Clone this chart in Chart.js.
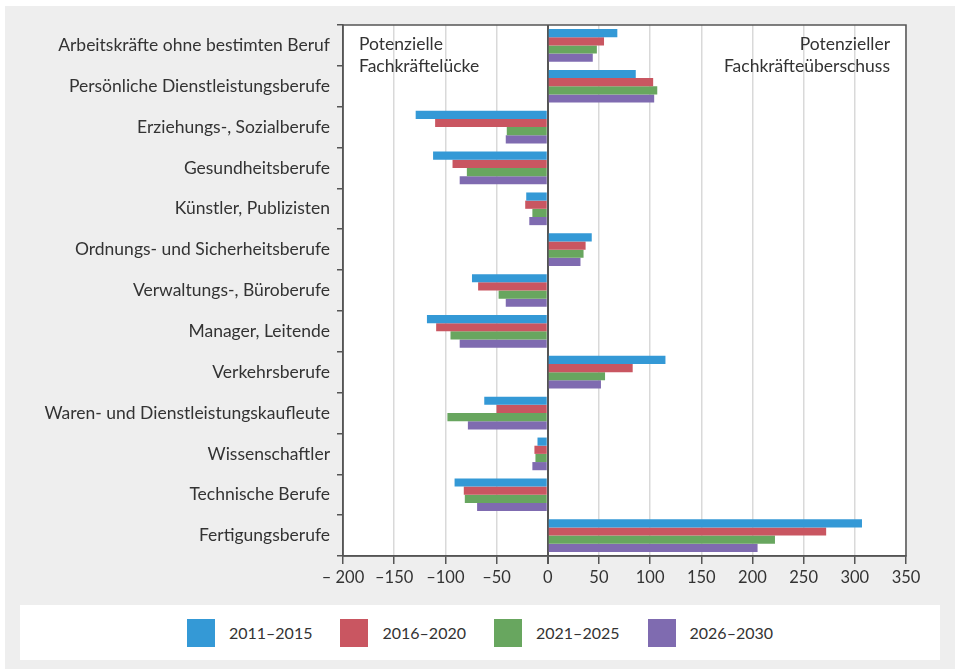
<!DOCTYPE html>
<html lang="de">
<head>
<meta charset="utf-8">
<script src="https://cdn.jsdelivr.net/npm/chart.js@4.4.1/dist/chart.umd.min.js"></script>
<style>
  html, body { margin: 0; padding: 0; background: #fff; width: 955px; height: 669px; overflow: hidden; }
  .frame { position: absolute; left: 5px; top: 6px; width: 950px; height: 663px; background: #eeeeee; }
  #chart { position: absolute; left: 0; top: 0; }
  #legend { position: absolute; left: 20px; top: 605px; width: 920px; height: 55px; background: #fff;
            display: flex; justify-content: center; align-items: center; gap: 28px;
            font-family: Lato, sans-serif; font-size: 16px; color: #333; }
  #legend .item { display: flex; align-items: center; gap: 14px; }
  #legend .box { width: 28px; height: 28px; }
</style>
</head>
<body>
<div class="frame"></div>
<canvas id="chart" width="955" height="600"></canvas>
<div id="legend"></div>
<script>
// Berufsgruppen (von oben nach unten)
const categories = [
  'Arbeitskräfte ohne bestimten Beruf',
  'Persönliche Dienstleistungsberufe',
  'Erziehungs-, Sozialberufe',
  'Gesundheitsberufe',
  'Künstler, Publizisten',
  'Ordnungs- und Sicherheitsberufe',
  'Verwaltungs-, Büroberufe',
  'Manager, Leitende',
  'Verkehrsberufe',
  'Waren- und Dienstleistungskaufleute',
  'Wissenschaftler',
  'Technische Berufe',
  'Fertigungsberufe'
];

// Werte je Zeitraum (in Tausend)
const periods = ['2011–2015', '2016–2020', '2021–2025', '2026–2030'];
const v2011 = [68, 86, -129, -112, -21, 43, -74, -118, 115, -62, -10, -91, 307];
const v2016 = [55, 103, -110, -93, -22, 37, -68, -109, 83, -50, -13, -82, 272];
const v2021 = [48, 107, -40, -79, -15, 35, -48, -95, 56, -98, -12, -81, 222];
const v2026 = [44, 104, -41, -86, -18, 32, -41, -86, 52, -78, -15, -69, 205];
const colors = ['#3499d6', '#c95661', '#68a65f', '#7f6bb0'];

// x-Achse
const xMin = -200;
const xMax = 350;
const xStep = 50;

const seriesValues = [v2011, v2016, v2021, v2026];

// Hintergrund, Rahmen und Beschriftungen im Diagramm
const plotDecor = {
  id: 'plotDecor',
  beforeDraw(chart) {
    const { ctx, chartArea: a } = chart;
    ctx.save();
    ctx.fillStyle = '#ffffff';
    ctx.fillRect(a.left, a.top, a.right - a.left, a.bottom - a.top);
    ctx.restore();
  },
  afterDraw(chart) {
    const { ctx, chartArea: a } = chart;
    ctx.save();
    ctx.strokeStyle = '#555';
    ctx.lineWidth = 1.5;
    ctx.strokeRect(a.left, a.top, a.right - a.left, a.bottom - a.top);
    ctx.fillStyle = '#333';
    ctx.font = '17.5px Lato, sans-serif';
    ctx.textBaseline = 'middle';
    ctx.textAlign = 'left';
    ctx.fillText('Potenzielle', a.left + 16, a.top + 19);
    ctx.fillText('Fachkräftelücke', a.left + 16, a.top + 41);
    ctx.textAlign = 'right';
    ctx.fillText('Potenzieller', a.right - 16, a.top + 19);
    ctx.fillText('Fachkräfteüberschuss', a.right - 16, a.top + 41);
    ctx.restore();
  }
};

const ctx = document.getElementById('chart').getContext('2d');
const chart = new Chart(ctx, {
  type: 'bar',
  data: {
    labels: categories,
    datasets: periods.map((p, i) => ({
      label: p,
      data: seriesValues[i],
      backgroundColor: colors[i],
      borderWidth: 0,
      categoryPercentage: 0.8,
      barPercentage: 1.0
    }))
  },
  options: {
    indexAxis: 'y',
    responsive: false,
    animation: false,
    layout: { padding: { top: 25, right: 49, left: 0, bottom: 0 } },
    plugins: {
      legend: { display: false },
      tooltip: { enabled: false }
    },
    scales: {
      x: {
        min: xMin,
        max: xMax,
        ticks: {
          stepSize: xStep,
          color: '#333',
          padding: 4,
          maxRotation: 0,
          minRotation: 0,
          autoSkip: false,
          font: { family: 'Lato, sans-serif', size: 16.5 },
          callback: (v) => v === -200 ? '– 200' : (v < 0 ? '–' + Math.abs(v) : String(v))
        },
        grid: {
          color: (c) => c.tick && c.tick.value === 0 ? '#555' : '#d9d9d9',
          lineWidth: (c) => c.tick && c.tick.value === 0 ? 2 : 1.5,
          tickColor: '#555',
          tickLength: 8
        },
        border: { color: '#555', width: 1.5 },
        afterFit(scale) { scale.height = 44; }
      },
      y: {
        ticks: {
          color: '#333',
          padding: 7,
          font: { family: 'Lato, sans-serif', size: 17.5 }
        },
        grid: {
          drawOnChartArea: false,
          tickColor: '#555',
          tickLength: 6,
          lineWidth: 1.5
        },
        border: { color: '#555', width: 1.5 },
        afterFit(scale) { scale.width = 343; }
      }
    }
  },
  plugins: [plotDecor]
});

// Legende
const legend = document.getElementById('legend');
periods.forEach((p, i) => {
  const item = document.createElement('div');
  item.className = 'item';
  item.innerHTML = '<span class="box" style="background:' + colors[i] + '"></span><span>' + p + '</span>';
  legend.appendChild(item);
});
</script>
</body>
</html>
